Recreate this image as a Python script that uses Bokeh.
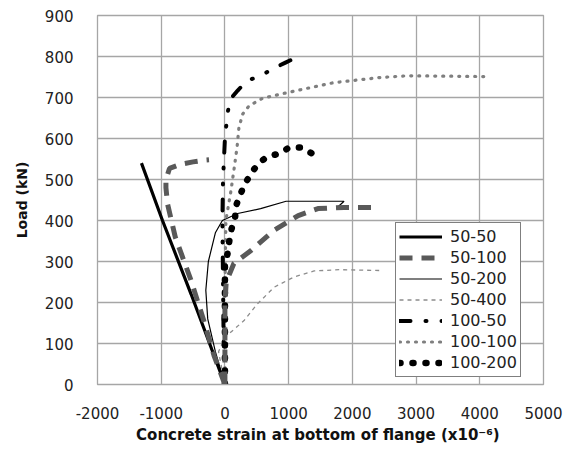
from bokeh.plotting import figure
from bokeh.models import Legend, LegendItem, FixedTicker, Range1d, PrintfTickFormatter
from bokeh.embed import file_html
from bokeh.resources import INLINE

# ---- data (strain x10^-6, load kN) ----
strain_50_50 = [0, -530, -980, -1310]
load_50_50 = [0, 220, 400, 540]

strain_50_100 = [0, 0, 0, 20, 140, 410, 770, 1150, 1460, 1870, 2400]
load_50_100 = [0, 100, 200, 250, 295, 327, 376, 412, 429, 432, 432]
strain_50_100b = [0, -170, -340, -535, -780, -900, -926, -926, -870, -700, -500, -330, -250]
load_50_100b = [0, 70, 160, 255, 360, 440, 480, 500, 527, 537, 543, 547, 548]

strain_50_200 = [0, -150, -270, -300, -260, -150, -40, 200, 560, 960, 1870, 1750]
load_50_200 = [0, 80, 160, 230, 300, 370, 400, 417, 429, 447, 447, 430]

strain_50_400 = [0, -100, 0, 300, 500, 770, 1080, 1400, 1800, 2450]
load_50_400 = [0, 80, 115, 156, 195, 237, 262, 277, 280, 278]

strain_100_50 = [0, -20, -30, -40, -30, 0, 40, 80, 200, 350, 530, 750, 950, 1150]
load_100_50 = [0, 100, 250, 400, 500, 600, 660, 695, 717, 742, 750, 770, 785, 800]

strain_100_100 = [0, 0, 10, 15, 95, 140, 190, 220, 280, 380, 590, 980, 1700, 2450, 2870, 3500, 4100]
load_100_100 = [0, 200, 350, 400, 473, 522, 578, 627, 660, 680, 698, 712, 736, 749, 753, 752, 751]

strain_100_200 = [0, 0, 0, 0, 45, 70, 105, 160, 170, 235, 315, 410, 520, 670, 850, 1010, 1200, 1370]
load_100_200 = [0, 115, 261, 290, 322, 351, 380, 407, 434, 461, 490, 514, 539, 556, 563, 578, 578, 563]

x_ticks = [-2000, -1000, 0, 1000, 2000, 3000, 4000, 5000]
y_ticks = [0, 100, 200, 300, 400, 500, 600, 700, 800, 900]

FONT = "DejaVu Sans"
GRID = "#a6a6a6"

p = figure(width=575, height=450, output_backend="svg", toolbar_location=None,
           x_range=Range1d(-2000, 5000), y_range=Range1d(0, 900),
           min_border_left=97, min_border_right=32, min_border_top=15, min_border_bottom=66)

p.outline_line_color = GRID
p.outline_line_width = 1.3
for g in (p.xgrid, p.ygrid):
    g.grid_line_color = GRID
    g.grid_line_width = 1.3
p.xaxis.ticker = FixedTicker(ticks=x_ticks)
p.yaxis.ticker = FixedTicker(ticks=y_ticks)
p.xaxis.formatter = PrintfTickFormatter(format="%d")
p.yaxis.formatter = PrintfTickFormatter(format="%d")
for ax in (p.xaxis, p.yaxis):
    ax.axis_line_color = GRID
    ax.major_tick_line_color = None
    ax.minor_tick_line_color = None
    ax.major_label_text_font = FONT
    ax.major_label_text_font_size = "15px"
    ax.major_label_text_color = "#222222"
    ax.axis_label_text_font = FONT
    ax.axis_label_text_font_style = "bold"
    ax.axis_label_text_color = "#111111"
p.xaxis.axis_label_text_font_size = "15px"
p.yaxis.axis_label_text_font_size = "14px"
p.xaxis.major_label_standoff = 16
p.yaxis.major_label_standoff = 18
p.xaxis.axis_label = "Concrete strain at bottom of flange  (x10⁻⁶)"
p.yaxis.axis_label = "Load (kN)"
p.xaxis.axis_label_standoff = 4
p.yaxis.axis_label_standoff = 12

r1 = p.line(strain_50_50, load_50_50, line_color="black", line_width=3.2)
r3 = p.line(strain_50_200, load_50_200, line_color="black", line_width=1.2)
r4 = p.line(strain_50_400, load_50_400, line_color="#8c8c8c", line_width=1.3, line_dash="4 4")
r6 = p.line(strain_100_100, load_100_100, line_color="#7f7f7f", line_width=3.2,
            line_dash="1 7", line_cap="round")
r7 = p.line(strain_100_200, load_100_200, line_color="black", line_width=6.5,
            line_dash="1 12", line_cap="round")
r5 = p.line(strain_100_50, load_100_50, line_color="black", line_width=4,
            line_dash="11 15 1 15 1 15", line_cap="round")
r2b = p.line(strain_50_100b, load_50_100b, line_color="#595959", line_width=5, line_dash="13 9")
r2 = p.line(strain_50_100, load_50_100, line_color="#595959", line_width=5, line_dash="13 9")

legend = Legend(items=[
    LegendItem(label="50-50", renderers=[r1]),
    LegendItem(label="50-100", renderers=[r2]),
    LegendItem(label="50-200", renderers=[r3]),
    LegendItem(label="50-400", renderers=[r4]),
    LegendItem(label="100-50", renderers=[r5]),
    LegendItem(label="100-100", renderers=[r6]),
    LegendItem(label="100-200", renderers=[r7]),
], location=(298, 7))
legend.border_line_color = "black"
legend.border_line_width = 1
legend.background_fill_color = "white"
legend.background_fill_alpha = 1
legend.label_text_font = FONT
legend.label_text_font_size = "16px"
legend.label_text_color = "#222222"
legend.glyph_width = 43
legend.glyph_height = 21
legend.label_height = 21
legend.label_standoff = 8
legend.spacing = 0
legend.padding = 3
legend.margin = 0
p.add_layout(legend, "center")

open("out.html", "w").write(file_html(p, INLINE))
